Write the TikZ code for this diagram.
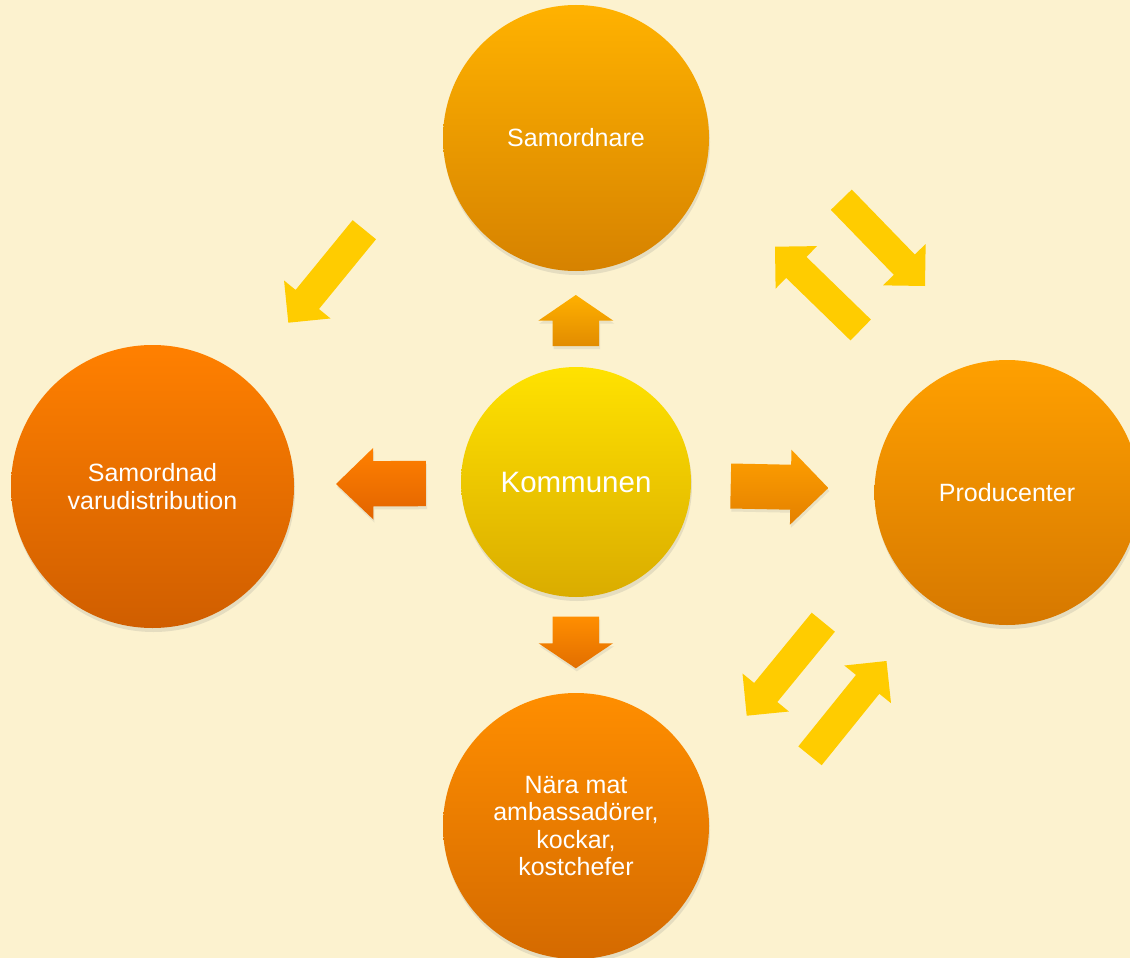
\documentclass[tikz,border=0pt]{standalone}
\usepackage{fontspec}
\setmainfont{Liberation Sans}
\usetikzlibrary{calc,shadows}
\definecolor{bg}{RGB}{252,242,207}
\definecolor{yel}{RGB}{255,204,0}
\newcommand\blkarrow[6]{%
  \coordinate (hb) at ($(#3)!#6!(#2)$);
  \path[#1] ($(#2)!#4!90:(#3)$) -- ($(hb)!#4!90:(#3)$) -- ($(hb)!#5!90:(#3)$) -- (#3)
    -- ($(hb)!#5!-90:(#3)$) -- ($(hb)!#4!-90:(#3)$) -- ($(#2)!#4!-90:(#3)$) -- cycle;}
\begin{document}
\begin{tikzpicture}[x=1pt,y=-1pt,
  ball/.style={circle, inner sep=0pt, align=center, text=white,
    font=\fontsize{25}{28}\selectfont,
    drop shadow={opacity=0.18, shadow xshift=1pt, shadow yshift=-4pt}},
  oarrow/.style={drop shadow={opacity=0.15, shadow xshift=1pt, shadow yshift=-3pt}},
  yarrow/.style={fill=yel}]
\useasboundingbox (0,0) rectangle (1130,958);
\clip (0,0) rectangle (1130,958);
\fill[bg] (0,0) rectangle (1130,958);

% circles
\node[ball, minimum size=266pt, top color={rgb,255:red,255;green,178;blue,0}, bottom color={rgb,255:red,214;green,130;blue,0}]
  (samordnare) at (576,138) {Samordnare};
\node[ball, minimum size=230pt, font=\fontsize{29.5}{32}\selectfont, top color={rgb,255:red,255;green,226;blue,0}, bottom color={rgb,255:red,218;green,172;blue,0}]
  (kommunen) at (576,482) {Kommunen};
\node[ball, minimum size=283pt, top color={rgb,255:red,255;green,128;blue,0}, bottom color={rgb,255:red,208;green,94;blue,0}]
  (varu) at (152.5,486.5) {Samordnad\\varudistribution};
\node[ball, minimum size=265pt, top color={rgb,255:red,255;green,160;blue,0}, bottom color={rgb,255:red,214;green,120;blue,0}]
  (prod) at (1007,492.5) {Producenter};
\node[ball, minimum size=266pt, font=\fontsize{25}{27.3}\selectfont, top color={rgb,255:red,255;green,142;blue,0}, bottom color={rgb,255:red,212;green,106;blue,0}]
  (nara) at (576,826) {Nära mat\\ambassadörer,\\kockar,\\kostchefer};

% orange block arrows
\coordinate (upT) at (575.8,346); \coordinate (upP) at (575.8,295);
\blkarrow{oarrow, top color={rgb,255:red,255;green,176;blue,0}, bottom color={rgb,255:red,226;green,140;blue,0}}{upT}{upP}{23.2pt}{37.5pt}{25.7pt}
\coordinate (lfT) at (426,483.5); \coordinate (lfP) at (336,484);
\blkarrow{oarrow, top color={rgb,255:red,255;green,128;blue,0}, bottom color={rgb,255:red,226;green,100;blue,0}}{lfT}{lfP}{22.7pt}{35.8pt}{37.3pt}
\coordinate (rtT) at (730.7,486); \coordinate (rtP) at (828.3,488);
\blkarrow{oarrow, top color={rgb,255:red,255;green,160;blue,0}, bottom color={rgb,255:red,228;green,128;blue,0}}{rtT}{rtP}{22.5pt}{37.5pt}{37.6pt}
\coordinate (dnT) at (575.8,616.7); \coordinate (dnP) at (575.8,668.3);
\blkarrow{oarrow, top color={rgb,255:red,255;green,142;blue,0}, bottom color={rgb,255:red,226;green,110;blue,0}}{dnT}{dnP}{23.2pt}{37.2pt}{25pt}

% yellow arrows
\coordinate (aT) at (364.3,229.7); \coordinate (aP) at (288.3,322.7);
\blkarrow{yarrow}{aT}{aP}{15.1pt}{30pt}{30pt}
\coordinate (bT) at (841.3,199.7); \coordinate (bP) at (925,286);
\blkarrow{yarrow}{bT}{bP}{14.6pt}{29.7pt}{29.7pt}
\coordinate (cT) at (860.7,330); \coordinate (cP) at (775,246.7);
\blkarrow{yarrow}{cT}{cP}{14.6pt}{29.7pt}{29.7pt}
\coordinate (dT) at (823.3,622.2); \coordinate (dP) at (746.7,715.7);
\blkarrow{yarrow}{dT}{dP}{15pt}{30pt}{30pt}
\coordinate (eT) at (810,755.8); \coordinate (eP) at (886.5,661);
\blkarrow{yarrow}{eT}{eP}{15pt}{30pt}{30pt}
\end{tikzpicture}
\end{document}
